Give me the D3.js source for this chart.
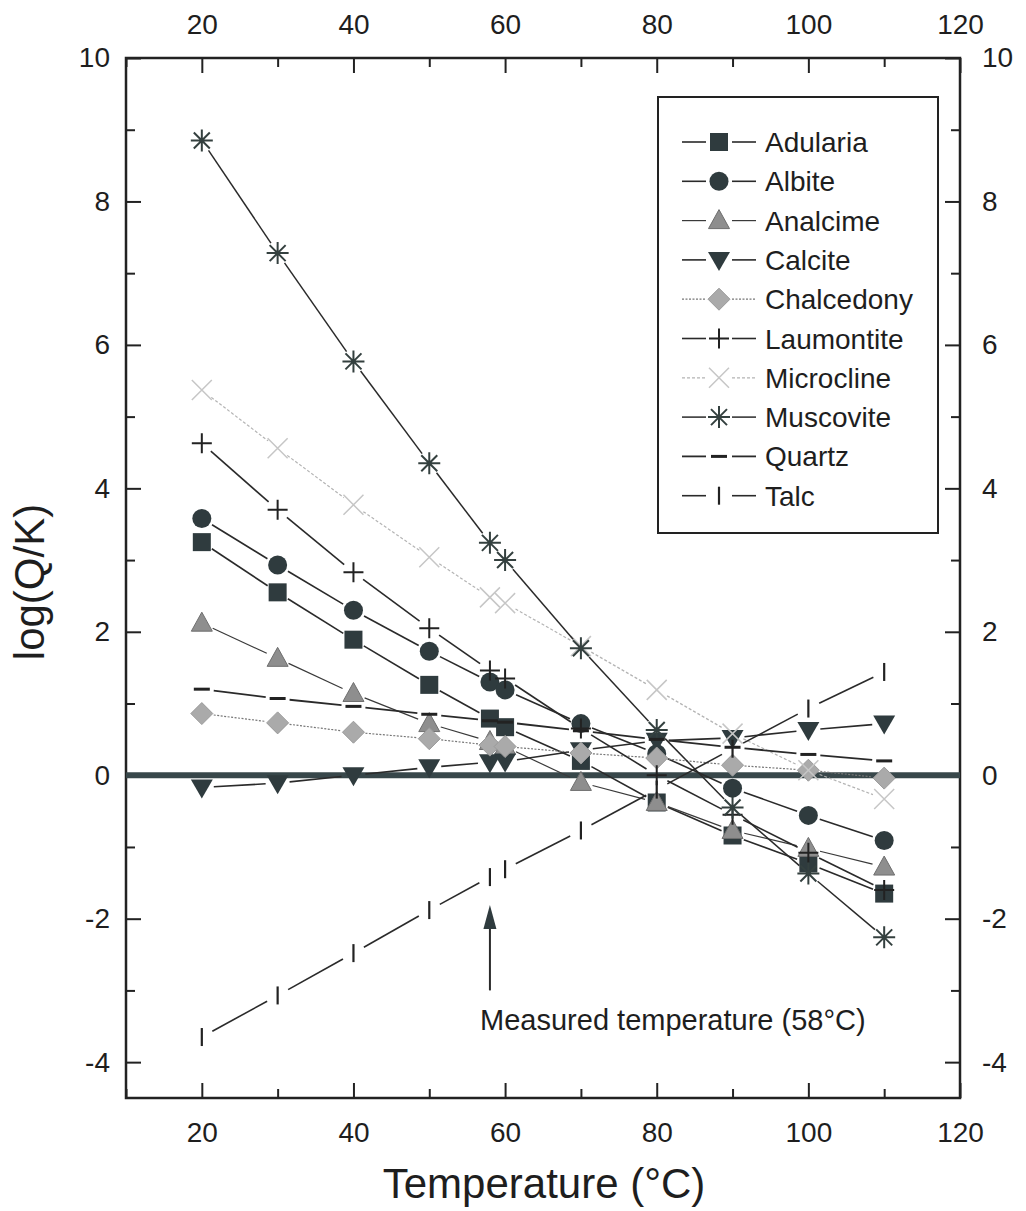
<!DOCTYPE html>
<html><head><meta charset="utf-8">
<script src="https://cdn.jsdelivr.net/npm/d3@7"></script>
<style>
body{margin:0;background:#fff}
text{font-family:"Liberation Sans",Arial,Helvetica,sans-serif;fill:#1e1e1e}
</style>
</head><body>
<svg id="c" width="1026" height="1211"></svg>
<script>
// ---------- data ----------
const temps      = [20, 30, 40, 50, 58, 60, 70, 80, 90, 100, 110];
const adularia   = [3.25, 2.55, 1.89, 1.26, 0.79, 0.67, 0.20, -0.38, -0.84, -1.23, -1.65];
const albite     = [3.58, 2.93, 2.30, 1.73, 1.30, 1.19, 0.72, 0.30, -0.18, -0.56, -0.91];
const analcime   = [2.12, 1.63, 1.14, 0.72, 0.47, 0.40, -0.10, -0.38, -0.77, -1.02, -1.28];
const calcite    = [-0.17, -0.11, 0.00, 0.11, 0.18, 0.19, 0.35, 0.48, 0.52, 0.63, 0.72];
const chalcedony = [0.86, 0.73, 0.60, 0.51, 0.42, 0.40, 0.31, 0.24, 0.14, 0.07, -0.04];
const laumontite = [4.63, 3.70, 2.83, 2.05, 1.46, 1.35, 0.65, 0.00, -0.55, -1.08, -1.60];
const microcline = [5.37, 4.56, 3.77, 3.04, 2.48, 2.40, 1.80, 1.19, 0.58, 0.07, -0.33];
const muscovite  = [8.85, 7.28, 5.77, 4.35, 3.24, 3.00, 1.77, 0.63, -0.45, -1.37, -2.26];
const quartz     = [1.20, 1.07, 0.96, 0.85, 0.76, 0.74, 0.62, 0.50, 0.39, 0.29, 0.20];
const talc       = [-3.65, -3.07, -2.48, -1.88, -1.42, -1.31, -0.77, -0.20, 0.37, 0.93, 1.44];

const seriesNames = ["Adularia","Albite","Analcime","Calcite","Chalcedony","Laumontite","Microcline","Muscovite","Quartz","Talc"];
const seriesValues = [adularia, albite, analcime, calcite, chalcedony, laumontite, microcline, muscovite, quartz, talc];

const xMajorTicks = [20, 40, 60, 80, 100, 120];
const xMinorTicks = [10, 30, 50, 70, 90, 110];
const yMajorTicks = [-4, -2, 0, 2, 4, 6, 8, 10];
const yMinorTicks = [-3, -1, 1, 3, 5, 7, 9];

const measuredT = 58;

// ---------- styles ----------
const DARK = "#2f3b3e";
const styles = {
  Adularia:   {m:"square",  fill:DARK, stroke:DARK, lc:"#2a2a2a", lw:1.6, dash:null},
  Albite:     {m:"circle",  fill:DARK, stroke:DARK, lc:"#2a2a2a", lw:1.6, dash:null},
  Analcime:   {m:"tri",     fill:"#8e8e8e", stroke:"#6e6e6e", lc:"#3a3a3a", lw:1.2, dash:null},
  Calcite:    {m:"tridown", fill:DARK, stroke:DARK, lc:"#2a2a2a", lw:1.6, dash:null},
  Chalcedony: {m:"diamond", fill:"#aaaaaa", stroke:"#9a9a9a", lc:"#777", lw:1.2, dash:"2,1.5"},
  Laumontite: {m:"plus",    fill:"none", stroke:"#222", lc:"#2a2a2a", lw:1.6, dash:null},
  Microcline: {m:"x",       fill:"none", stroke:"#c6c6c6", lc:"#b4b4b4", lw:1.2, dash:"3,2"},
  Muscovite:  {m:"star",    fill:"none", stroke:"#34403f", lc:"#2a2a2a", lw:1.5, dash:null},
  Quartz:     {m:"hbar",    fill:"none", stroke:"#222", lc:"#2a2a2a", lw:1.8, dash:null},
  Talc:       {m:"vbar",    fill:"none", stroke:"#222", lc:"#2a2a2a", lw:1.6, dash:null}
};

// ---------- scales ----------
const L = 126, R = 960, T = 58, B = 1098;
const x = d3.scaleLinear().domain([10, 120]).range([L, R]);
const y = d3.scaleLinear().domain([-4.5, 10]).range([B, T]);
const fmt = d => String(d);

const svg = d3.select("#c");

function drawMarker(g, type, cx, cy, st) {
  const gg = g.append("g").attr("transform", `translate(${cx},${cy})`);
  switch (type) {
    case "square":
      gg.append("rect").attr("x",-9).attr("y",-9).attr("width",18).attr("height",18).attr("fill",st.fill);
      break;
    case "circle":
      gg.append("circle").attr("r",9.5).attr("fill",st.fill);
      break;
    case "tri":
      gg.append("path").attr("d","M0,-11L10.5,8L-10.5,8Z").attr("fill",st.fill).attr("stroke",st.stroke).attr("stroke-width",1);
      break;
    case "tridown":
      gg.append("path").attr("d","M-11,-8L11,-8L0,11Z").attr("fill",st.fill);
      break;
    case "diamond":
      gg.append("path").attr("d","M0,-11L11,0L0,11L-11,0Z").attr("fill",st.fill).attr("stroke",st.stroke).attr("stroke-width",1);
      break;
    case "plus":
      gg.append("path").attr("d","M-10,0H10M0,-10V10").attr("stroke",st.stroke).attr("stroke-width",2).attr("fill","none");
      break;
    case "x":
      gg.append("path").attr("d","M-10,-10L10,10M-10,10L10,-10").attr("stroke",st.stroke).attr("stroke-width",1.5).attr("fill","none");
      break;
    case "star":
      gg.append("path").attr("d","M-11,0H11M0,-11V11M-8,-8L8,8M-8,8L8,-8").attr("stroke",st.stroke).attr("stroke-width",2).attr("fill","none");
      break;
    case "hbar":
      gg.append("path").attr("d","M-8,0H8").attr("stroke",st.stroke).attr("stroke-width",3).attr("fill","none");
      break;
    case "vbar":
      gg.append("path").attr("d","M0,-9V9").attr("stroke",st.stroke).attr("stroke-width",2.2).attr("fill","none");
      break;
  }
}

// ---------- frame & axes ----------
const axG = svg.append("g");
function styleAxis(g) {
  g.select(".domain").remove();
  g.selectAll(".tick line").attr("stroke", "#222").attr("stroke-width", 2);
  g.selectAll(".tick text").attr("font-size", 28).attr("fill", "#1e1e1e")
    .attr("font-family", '"Liberation Sans",Arial,sans-serif');
}
// bottom
axG.append("g").attr("transform", `translate(0,${B})`)
  .call(d3.axisBottom(x).tickValues(xMajorTicks).tickSize(-15).tickPadding(24).tickFormat(fmt))
  .call(styleAxis);
axG.append("g").attr("transform", `translate(0,${B})`)
  .call(d3.axisBottom(x).tickValues(xMinorTicks).tickSize(-9).tickFormat(""))
  .call(styleAxis);
// top
axG.append("g").attr("transform", `translate(0,${T})`)
  .call(d3.axisTop(x).tickValues(xMajorTicks).tickSize(-15).tickPadding(24).tickFormat(fmt))
  .call(styleAxis);
axG.append("g").attr("transform", `translate(0,${T})`)
  .call(d3.axisTop(x).tickValues(xMinorTicks).tickSize(-9).tickFormat(""))
  .call(styleAxis);
// left
axG.append("g").attr("transform", `translate(${L},0)`)
  .call(d3.axisLeft(y).tickValues(yMajorTicks).tickSize(-15).tickPadding(16).tickFormat(fmt))
  .call(styleAxis);
axG.append("g").attr("transform", `translate(${L},0)`)
  .call(d3.axisLeft(y).tickValues(yMinorTicks).tickSize(-9).tickFormat(""))
  .call(styleAxis);
// right
axG.append("g").attr("transform", `translate(${R},0)`)
  .call(d3.axisRight(y).tickValues(yMajorTicks).tickSize(-15).tickPadding(22).tickFormat(fmt))
  .call(styleAxis);
axG.append("g").attr("transform", `translate(${R},0)`)
  .call(d3.axisRight(y).tickValues(yMinorTicks).tickSize(-9).tickFormat(""))
  .call(styleAxis);
// frame
svg.append("rect").attr("x", L).attr("y", T).attr("width", R - L).attr("height", B - T)
  .attr("fill", "none").attr("stroke", "#222").attr("stroke-width", 2.5);

// zero line
svg.append("line").attr("x1", x(10)).attr("x2", x(120)).attr("y1", y(0)).attr("y2", y(0))
  .attr("stroke", "#38474a").attr("stroke-width", 6);

// ---------- series ----------
const gap = 12;
const plotG = svg.append("g");
seriesNames.forEach((name, si) => {
  const st = styles[name];
  const vals = seriesValues[si];
  const pts = temps.map((t, i) => [x(t), y(vals[i])]);
  const lg = plotG.append("g");
  for (let i = 0; i < pts.length - 1; i++) {
    const [x0, y0] = pts[i], [x1, y1] = pts[i + 1];
    const dx = x1 - x0, dy = y1 - y0, d = Math.hypot(dx, dy);
    if (d <= 2 * gap + 2) continue;
    const ux = dx / d, uy = dy / d;
    const ln = lg.append("line")
      .attr("x1", x0 + ux * gap).attr("y1", y0 + uy * gap)
      .attr("x2", x1 - ux * gap).attr("y2", y1 - uy * gap)
      .attr("stroke", st.lc).attr("stroke-width", st.lw);
    if (st.dash) ln.attr("stroke-dasharray", st.dash);
  }
  const mg = plotG.append("g");
  pts.forEach(p => drawMarker(mg, st.m, p[0], p[1], st));
});

// ---------- annotation ----------
const ax = x(measuredT);
svg.append("line").attr("x1", ax).attr("x2", ax).attr("y1", y(-3.0)).attr("y2", y(-1.95))
  .attr("stroke", "#2a2a2a").attr("stroke-width", 2);
svg.append("path")
  .attr("d", `M${ax},${y(-1.81)}L${ax + 6.5},${y(-1.81) + 24}L${ax - 6.5},${y(-1.81) + 24}Z`)
  .attr("fill", DARK);
svg.append("text").attr("x", x(56.7)).attr("y", y(-3.55))
  .attr("font-size", 29).text("Measured temperature (58°C)");

// ---------- legend ----------
const lgX = 658, lgY = 97, lgW = 280, lgH = 436;
svg.append("rect").attr("x", lgX).attr("y", lgY).attr("width", lgW).attr("height", lgH)
  .attr("fill", "#fff").attr("stroke", "#222").attr("stroke-width", 2);
seriesNames.forEach((name, i) => {
  const st = styles[name];
  const cy = 142 + i * 39.3;
  const g = svg.append("g");
  [[682, 706], [732, 756]].forEach(([a, b]) => {
    const ln = g.append("line").attr("x1", a).attr("x2", b).attr("y1", cy).attr("y2", cy)
      .attr("stroke", st.lc).attr("stroke-width", st.lw);
    if (st.dash) ln.attr("stroke-dasharray", st.dash);
  });
  drawMarker(g, st.m, 719, cy, st);
  g.append("text").attr("x", 765).attr("y", cy).attr("dy", "0.36em")
    .attr("font-size", 28).text(name);
});

// ---------- titles ----------
svg.append("text").attr("x", (L + R) / 2 + 1).attr("y", 1198)
  .attr("text-anchor", "middle").attr("font-size", 42).text("Temperature (°C)");
svg.append("text").attr("transform", "translate(44,582) rotate(-90)")
  .attr("text-anchor", "middle").attr("font-size", 42).text("log(Q/K)");
</script>
</body></html>
